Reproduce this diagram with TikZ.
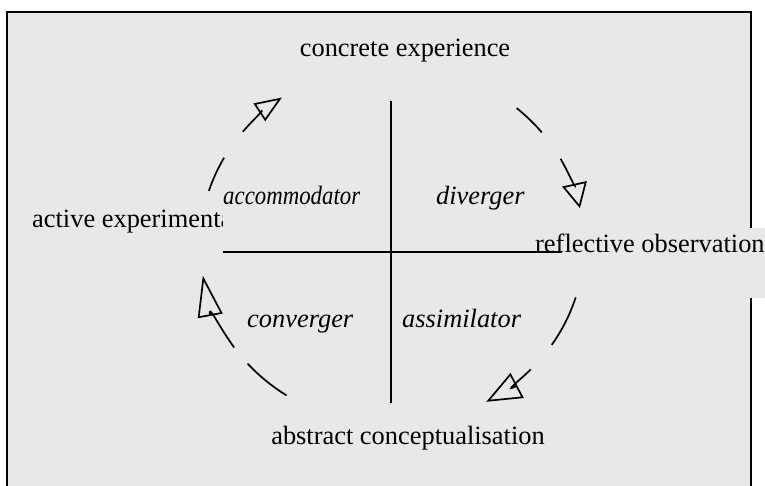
\documentclass[tikz,border=0pt]{standalone}
\usepackage{fontspec}
\setmainfont{Liberation Serif}
\usetikzlibrary{arrows.meta}
\definecolor{panel}{RGB}{232,232,232}
\begin{document}
\begin{tikzpicture}[x=1pt,y=1pt,
  label/.style={inner sep=0pt,anchor=base west,font=\fontsize{26.4pt}{30pt}\selectfont},
  stylelabel/.style={inner sep=0pt,anchor=base west,font=\fontsize{26.4pt}{30pt}\selectfont\itshape},
  axis/.style={line width=1.7pt},
  ring/.style={line width=1.7pt},
  tip/.style 2 args={-{Triangle[open,length=#1pt,width=#2pt,line width=1.7pt]}}]
  \useasboundingbox (0,0) rectangle (765,486);
  % panel and frame (frame runs off the bottom edge)
  \fill[panel] (7,-10) rectangle (751,474);
  \draw[line width=1.8pt] (7,-10) -- (7,474) -- (751,474) -- (751,-10);
  % box behind the right-hand label
  \fill[panel] (530,188) rectangle (765,258);
  % left-hand label, trimmed where the quadrant text box starts
  \begin{scope}
    \clip (0,0) rectangle (222,486);
    \node[label] (ae) at (32,258) {active experimentation};
  \end{scope}
  % axes
  \coordinate (top) at (391,385);
  \coordinate (bot) at (391,83);
  \coordinate (lft) at (223,234);
  \coordinate (rgt) at (562,234);
  \draw[axis] (top) -- (bot);
  \draw[axis] (lft) -- (rgt);
  % cycle: dashed ellipse with one arrow per quarter
  \coordinate (c) at (392,241);
  \draw[ring] (c) ++(162.5:192 and 180) arc[start angle=162.5,end angle=151,x radius=192,y radius=180];
  \draw[ring,tip={27}{21}] (c) ++(141:192 and 180) arc[start angle=141,end angle=125,x radius=192,y radius=180];
  \draw[ring] (c) ++(49.5:192 and 180) arc[start angle=49.5,end angle=38.7,x radius=192,y radius=180];
  \draw[ring,tip={25}{25}] (c) ++(28.6:192 and 180) arc[start angle=28.6,end angle=11.8,x radius=192,y radius=180];
  \draw[ring] (c) ++(-16.9:192 and 180) arc[start angle=-16.9,end angle=-33.7,x radius=192,y radius=180];
  \draw[ring,tip={35}{28}] (c) ++(-43.7:192 and 180) arc[start angle=-43.7,end angle=-60.6,x radius=192,y radius=180];
  \draw[ring] (c) ++(-123.3:192 and 180) arc[start angle=-123.3,end angle=-138.8,x radius=192,y radius=180];
  \draw[ring,tip={41}{25}] (c) ++(-145.3:192 and 180) arc[start angle=-145.3,end angle=-170.2,x radius=192,y radius=180];
  % stage labels
  \node[label,anchor=base] (ce) at (405,429) {concrete experience};
  \node[label,anchor=base] (ac) at (408,41) {abstract conceptualisation};
  \node[label] (ro) at (535,233) {reflective observation};
  % learning styles
  \node[stylelabel] (acc) at (223,281) {\scalebox{0.865}[1]{accommodator}};
  \node[stylelabel] (div) at (436,281) {diverger};
  \node[stylelabel] (con) at (247,158) {converger};
  \node[stylelabel] (ass) at (402,158) {assimilator};
\end{tikzpicture}
\end{document}
